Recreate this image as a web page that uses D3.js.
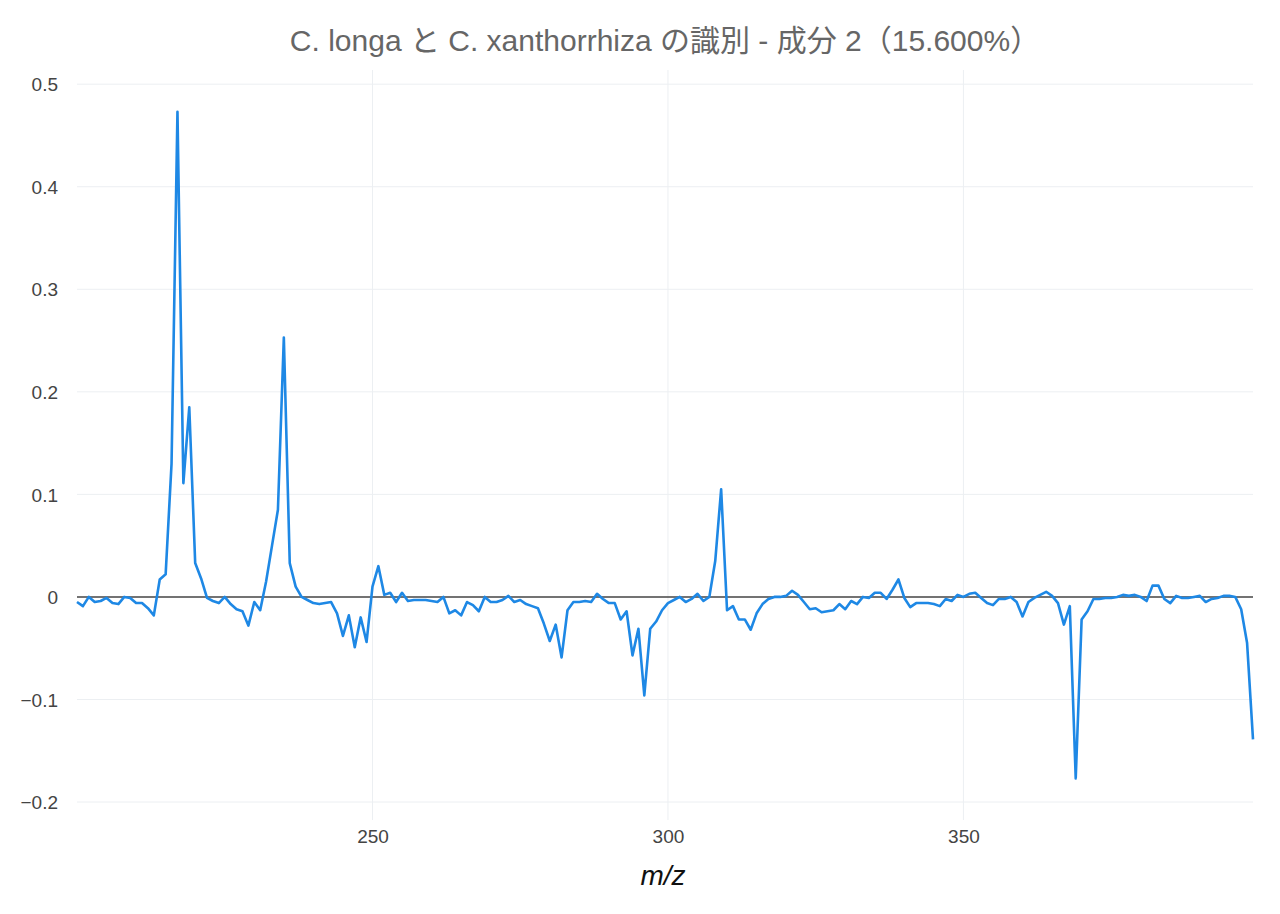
<!DOCTYPE html>
<html>
<head>
<meta charset="utf-8">
<script src="https://cdn.jsdelivr.net/npm/d3@7"></script>
<style>
  html, body { margin: 0; padding: 0; background: #fff; }
  svg { display: block; }
</style>
</head>
<body>
<svg id="chart" width="1280" height="914"></svg>
<script>
const titleText = "C. longa と C. xanthorrhiza の識別 - 成分 2（15.600%）";
const xTitle = "m/z";
const xTicks = [250, 300, 350];
const yTicks = [-0.2, -0.1, 0, 0.1, 0.2, 0.3, 0.4, 0.5];
const mz = [
200,201,202,203,204,205,206,207,208,209,210,211,212,213,214,215,216,217,218,219,
220,221,222,223,224,225,226,227,228,229,230,231,232,233,234,235,236,237,238,239,
240,241,242,243,244,245,246,247,248,249,250,251,252,253,254,255,256,257,258,259,
260,261,262,263,264,265,266,267,268,269,270,271,272,273,274,275,276,277,278,279,
280,281,282,283,284,285,286,287,288,289,290,291,292,293,294,295,296,297,298,299,
300,301,302,303,304,305,306,307,308,309,310,311,312,313,314,315,316,317,318,319,
320,321,322,323,324,325,326,327,328,329,330,331,332,333,334,335,336,337,338,339,
340,341,342,343,344,345,346,347,348,349,350,351,352,353,354,355,356,357,358,359,
360,361,362,363,364,365,366,367,368,369,370,371,372,373,374,375,376,377,378,379,
380,381,382,383,384,385,386,387,388,389,390,391,392,393,394,395,396,397,398,399];
const loading = [
-0.005,-0.009,0.000,-0.005,-0.004,-0.001,-0.006,-0.007,0.000,-0.001,
-0.006,-0.006,-0.011,-0.018,0.017,0.022,0.130,0.473,0.111,0.185,
0.033,0.018,-0.001,-0.004,-0.006,0.000,-0.007,-0.012,-0.014,-0.028,
-0.005,-0.013,0.015,0.050,0.085,0.253,0.033,0.010,0.000,-0.003,
-0.006,-0.007,-0.006,-0.005,-0.016,-0.038,-0.018,-0.049,-0.020,-0.044,
0.010,0.030,0.002,0.004,-0.005,0.004,-0.004,-0.003,-0.003,-0.003,
-0.004,-0.005,0.000,-0.016,-0.013,-0.018,-0.005,-0.008,-0.014,0.000,
-0.005,-0.005,-0.003,0.001,-0.005,-0.003,-0.007,-0.009,-0.011,-0.026,
-0.043,-0.027,-0.059,-0.013,-0.005,-0.005,-0.004,-0.005,0.003,-0.002,
-0.006,-0.006,-0.022,-0.014,-0.057,-0.031,-0.096,-0.031,-0.024,-0.013,
-0.006,-0.003,0.000,-0.005,-0.002,0.003,-0.004,0.000,0.035,0.105,
-0.013,-0.009,-0.022,-0.022,-0.032,-0.016,-0.007,-0.002,0.000,0.000,
0.001,0.006,0.002,-0.005,-0.012,-0.011,-0.015,-0.014,-0.013,-0.007,
-0.012,-0.004,-0.007,0.000,-0.001,0.004,0.004,-0.002,0.007,0.017,
-0.001,-0.010,-0.006,-0.006,-0.006,-0.007,-0.009,-0.002,-0.004,0.002,
0.000,0.003,0.004,-0.001,-0.006,-0.008,-0.002,-0.002,0.000,-0.005,
-0.019,-0.005,-0.001,0.002,0.005,0.001,-0.006,-0.027,-0.009,-0.177,
-0.022,-0.014,-0.002,-0.002,-0.001,-0.001,0.000,0.002,0.001,0.002,
0.000,-0.004,0.011,0.011,-0.002,-0.006,0.001,-0.001,-0.001,0.000,
0.001,-0.005,-0.002,-0.001,0.001,0.001,0.000,-0.012,-0.045,-0.139];

(function () {
const svg = d3.select("#chart");
const plotL = 77, plotR = 1253, plotT = 70, plotB = 820;
const font = "'Liberation Sans', Arial, 'Noto Sans CJK JP', sans-serif";

const x = d3.scaleLinear().domain([200, 399]).range([plotL, plotR]);
const y = d3.scaleLinear().domain([-0.2, 0.5]).range([802, 84.2]);

// grid
const grid = svg.append("g");
grid.selectAll("line.h").data(yTicks.filter(d => d !== 0)).enter().append("line")
  .attr("x1", plotL).attr("x2", plotR)
  .attr("y1", d => y(d)).attr("y2", d => y(d))
  .attr("stroke", "#eceff2").attr("stroke-width", 1);
grid.selectAll("line.v").data(xTicks).enter().append("line")
  .attr("x1", d => x(d)).attr("x2", d => x(d))
  .attr("y1", plotT).attr("y2", plotB)
  .attr("stroke", "#eceff2").attr("stroke-width", 1);

// zero line
svg.append("line").attr("x1", plotL).attr("x2", plotR)
  .attr("y1", y(0)).attr("y2", y(0))
  .attr("stroke", "#444").attr("stroke-width", 1.5);

// axes labels
const yAxis = d3.axisLeft(y).tickValues(yTicks).tickSize(0).tickPadding(0)
  .tickFormat(d => d === 0 ? "0" : d3.format(".1f")(d).replace("-", "\u2212"));
const gy = svg.append("g").attr("transform", `translate(${plotL - 19},0)`).call(yAxis);
gy.select(".domain").remove();
gy.selectAll("text").attr("font-family", font).attr("font-size", 19).attr("fill", "#444").attr("dy", "0.35em");

const xAxis = d3.axisBottom(x).tickValues(xTicks).tickSize(0).tickPadding(0).tickFormat(d3.format("d"));
const gx = svg.append("g").attr("transform", `translate(0,${plotB + 9})`).call(xAxis);
gx.select(".domain").remove();
gx.selectAll("text").attr("font-family", font).attr("font-size", 19).attr("fill", "#444").attr("dy", "0.75em");

// line
const data = mz.map((m, i) => [m, loading[i]]);
svg.append("path").datum(data)
  .attr("fill", "none")
  .attr("stroke", "#1e88e5")
  .attr("stroke-width", 2.6)
  .attr("stroke-linejoin", "round")
  .attr("d", d3.line().x(d => x(d[0])).y(d => y(d[1])));

// titles
svg.append("text").attr("x", (plotL + plotR) / 2).attr("y", 51)
  .attr("text-anchor", "middle").attr("font-family", font)
  .attr("font-size", 30).attr("fill", "#666").text(titleText);
svg.append("text").attr("x", (plotL + plotR) / 2 - 2).attr("y", 885)
  .attr("text-anchor", "middle").attr("font-family", font)
  .attr("font-size", 28).attr("font-style", "italic").attr("fill", "#111").text(xTitle);
})();
</script>
</body>
</html>
